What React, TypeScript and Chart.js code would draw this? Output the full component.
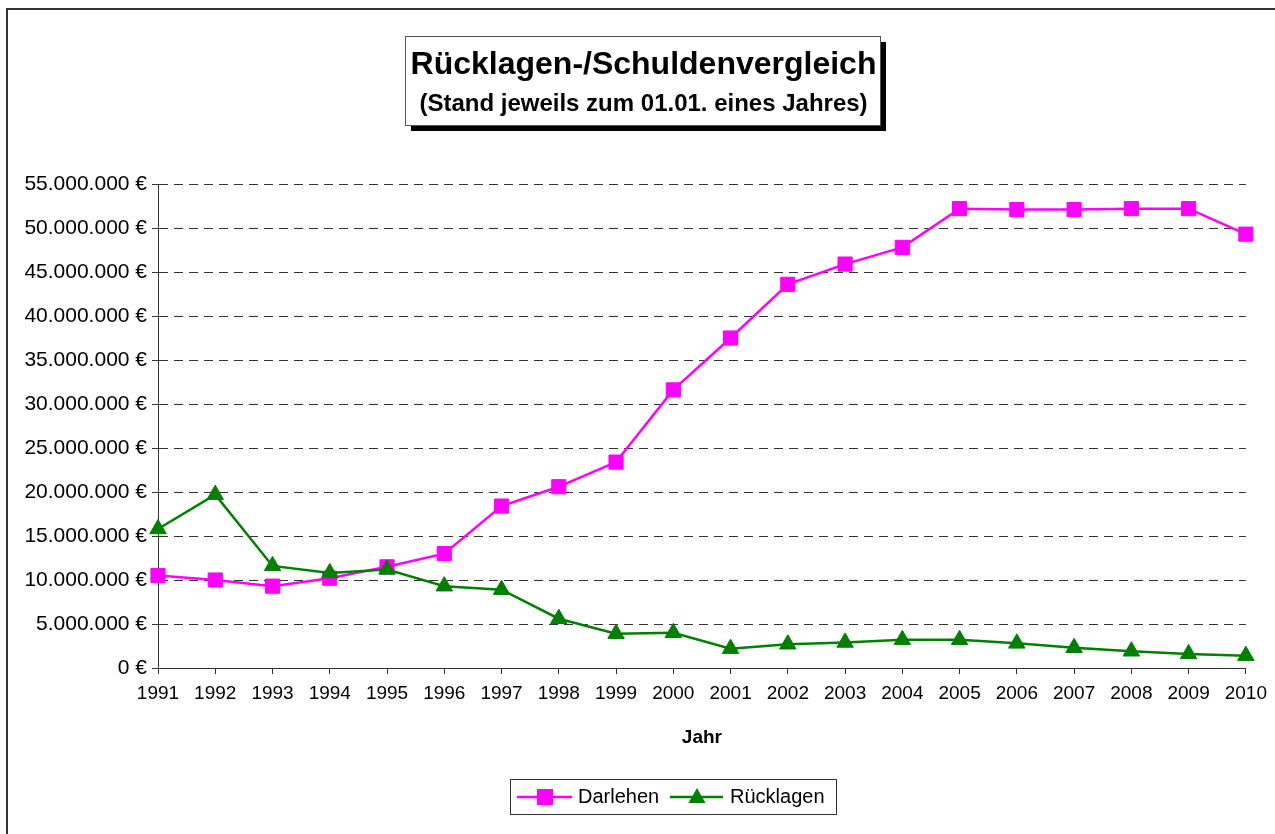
import React, { useEffect, useRef } from "react";
import { Chart, registerables } from "chart.js";

Chart.register(...registerables);

const years = ["1991", "1992", "1993", "1994", "1995", "1996", "1997", "1998", "1999", "2000",
  "2001", "2002", "2003", "2004", "2005", "2006", "2007", "2008", "2009", "2010"];
const darlehen = [10500000, 10000000, 9300000, 10200000, 11500000, 13000000, 18400000, 20600000, 23400000, 31600000,
  37500000, 43600000, 45900000, 47800000, 52200000, 52100000, 52100000, 52200000, 52200000, 49300000];
const ruecklagen = [15800000, 19700000, 11600000, 10800000, 11200000, 9300000, 8900000, 5600000, 3900000, 4000000,
  2200000, 2700000, 2900000, 3200000, 3200000, 2800000, 2300000, 1900000, 1600000, 1400000];
const seriesNames = ["Darlehen", "Rücklagen"];
const titleLines = ["Rücklagen-/Schuldenvergleich", "(Stand jeweils zum 01.01. eines Jahres)"];
const xAxisTitle = "Jahr";
const yMax = 55000000;
const yStep = 5000000;

const MAGENTA = "#ff00ff";
const GREEN = "#008000";
const FONT = "'Liberation Sans', Arial, sans-serif";

const fmtEuro = (v: number) => String(Math.round(v)).replace(/\B(?=(\d{3})+(?!\d))/g, ".") + " €";

const decor = {
  id: "decor",
  beforeDraw(chart: any) {
    const ctx = chart.ctx as CanvasRenderingContext2D;
    ctx.save();
    ctx.fillStyle = "#ffffff";
    ctx.fillRect(0, 0, chart.width, chart.height);
    ctx.strokeStyle = "#333333";
    ctx.lineWidth = 2;
    ctx.strokeRect(7, 9, chart.width + 20, chart.height + 20);
    ctx.restore();
  },
  afterDraw(chart: any) {
    const ctx = chart.ctx as CanvasRenderingContext2D;
    ctx.save();
    // title box with shadow
    const bx = 405, by = 36, bw = 475, bh = 89;
    ctx.fillStyle = "#000000";
    ctx.fillRect(bx + 6, by + 6, bw, bh);
    ctx.fillStyle = "#ffffff";
    ctx.fillRect(bx, by, bw, bh);
    ctx.strokeStyle = "#555555";
    ctx.lineWidth = 1;
    ctx.strokeRect(bx + 0.5, by + 0.5, bw, bh);
    ctx.fillStyle = "#000000";
    ctx.textAlign = "center";
    ctx.textBaseline = "alphabetic";
    ctx.font = `bold 32px ${FONT}`;
    ctx.fillText(titleLines[0], bx + bw / 2 + 1, 74);
    ctx.font = `bold 24px ${FONT}`;
    ctx.fillText(titleLines[1], bx + bw / 2 + 1, 111);

    // legend
    const lx = 510, ly = 779, lw = 326, lh = 35;
    ctx.fillStyle = "#ffffff";
    ctx.fillRect(lx, ly, lw, lh);
    ctx.strokeStyle = "#333333";
    ctx.lineWidth = 1;
    ctx.strokeRect(lx + 0.5, ly + 0.5, lw, lh);
    const cy = ly + lh / 2 + 0.5;
    // Darlehen
    ctx.strokeStyle = MAGENTA;
    ctx.lineWidth = 2.5;
    ctx.beginPath();
    ctx.moveTo(517, cy);
    ctx.lineTo(572, cy);
    ctx.stroke();
    ctx.fillStyle = MAGENTA;
    ctx.fillRect(545 - 8, cy - 8, 16, 16);
    // Rücklagen
    ctx.strokeStyle = GREEN;
    ctx.beginPath();
    ctx.moveTo(670, cy);
    ctx.lineTo(723, cy);
    ctx.stroke();
    ctx.fillStyle = GREEN;
    ctx.beginPath();
    ctx.moveTo(697, cy - 9);
    ctx.lineTo(705.5, cy + 6);
    ctx.lineTo(688.5, cy + 6);
    ctx.closePath();
    ctx.fill();
    ctx.fillStyle = "#000000";
    ctx.font = `20px ${FONT}`;
    ctx.textAlign = "left";
    ctx.textBaseline = "middle";
    ctx.fillText(seriesNames[0], 578, cy);
    ctx.fillText(seriesNames[1], 730, cy);
    ctx.restore();
  },
};

export default function App() {
  const ref = useRef<HTMLCanvasElement | null>(null);

  useEffect(() => {
    if (!ref.current) return;
    const chart = new Chart(ref.current, {
      type: "line",
      data: {
        labels: years,
        datasets: [
          {
            label: seriesNames[0],
            data: darlehen,
            borderColor: MAGENTA,
            backgroundColor: MAGENTA,
            borderWidth: 2.5,
            pointStyle: "rect",
            pointRadius: 10,
            pointBorderWidth: 1,
            pointBorderColor: MAGENTA,
            pointBackgroundColor: MAGENTA,
            tension: 0,
            order: 1,
          },
          {
            label: seriesNames[1],
            data: ruecklagen,
            borderColor: GREEN,
            backgroundColor: GREEN,
            borderWidth: 2.5,
            pointStyle: "triangle",
            pointRadius: 9.5,
            pointBorderWidth: 1,
            pointBorderColor: GREEN,
            pointBackgroundColor: GREEN,
            tension: 0,
            order: 0,
          },
        ],
      },
      options: {
        responsive: false,
        animation: false,
        layout: { padding: { top: 184, right: 29, left: 0, bottom: 85 } },
        plugins: {
          legend: { display: false },
          tooltip: { enabled: false },
          title: { display: false },
        },
        scales: {
          x: {
            type: "category",
            offset: false,
            afterFit: (s: any) => {
              s.height = 834 - 85 - 668;
            },
            grid: {
              drawOnChartArea: false,
              drawTicks: true,
              tickLength: 6,
              tickColor: "#333333",
              color: "#333333",
            },
            border: { display: true, color: "#333333", width: 1 },
            ticks: {
              color: "#000000",
              font: { family: FONT, size: 19 },
              maxRotation: 0,
              autoSkip: false,
              padding: 8,
            },
            title: {
              display: true,
              text: xAxisTitle,
              color: "#000000",
              font: { family: FONT, size: 19, weight: "bold" },
              padding: 0,
            },
          },
          y: {
            min: 0,
            max: yMax,
            afterFit: (s: any) => {
              s.width = 158;
            },
            grid: {
              color: "#333333",
              lineWidth: 1,
              drawTicks: true,
              tickLength: 6,
              tickColor: "#333333",
            },
            border: { display: true, color: "#333333", width: 1, dash: [9, 6] },
            ticks: {
              stepSize: yStep,
              color: "#000000",
              font: { family: FONT, size: 21 },
              padding: 5,
              callback: (v: any) => fmtEuro(Number(v)),
            },
          },
        },
      },
      plugins: [decor],
    } as any);
    return () => chart.destroy();
  }, []);

  return (
    <div style={{ position: "fixed", left: 0, top: 0, width: 1275, height: 834, background: "#fff" }}>
      <canvas ref={ref} width={1275} height={834} style={{ display: "block" }} />
    </div>
  );
}
